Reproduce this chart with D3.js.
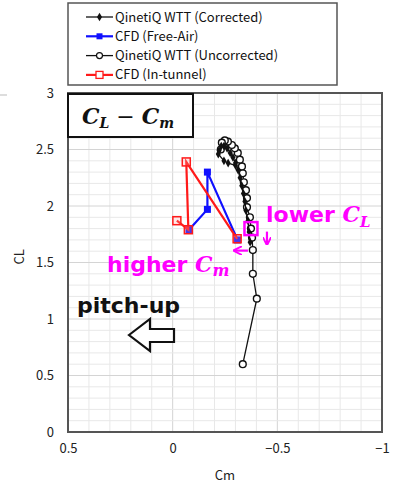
<!DOCTYPE html>
<html>
<head>
<meta charset="utf-8">
<script src="https://cdn.jsdelivr.net/npm/d3@7"></script>
<style>
  html, body { margin: 0; padding: 0; background: #fff; }
  svg { display: block; }
</style>
</head>
<body>
<svg id="chart" width="395" height="487"></svg>
<script>
// Lift coefficient vs. pitching-moment coefficient
const xTicks = [0.5, 0, -0.5, -1];
const yTicks = [0, 0.5, 1, 1.5, 2, 2.5, 3];
const xTickLabels = ["0.5", "0", "\u22120.5", "\u22121"];
const yTickLabels = ["0", "0.5", "1", "1.5", "2", "2.5", "3"];

const seriesNames = [
  "QinetiQ WTT (Corrected)",
  "CFD (Free-Air)",
  "QinetiQ WTT (Uncorrected)",
  "CFD (In-tunnel)"
];

// QinetiQ wind tunnel, uncorrected
const wttUncCm = [-0.335, -0.402, -0.383, -0.383, -0.379, -0.374, -0.369, -0.355, -0.355, -0.350, -0.340,
                  -0.335, -0.331, -0.321, -0.311, -0.297, -0.283, -0.264, -0.249, -0.235, -0.230];
const wttUncCL = [0.60, 1.18, 1.40, 1.61, 1.72, 1.80, 1.90, 1.99, 2.07, 2.14, 2.21,
                  2.29, 2.35, 2.41, 2.47, 2.51, 2.54, 2.57, 2.58, 2.56, 2.50];

// QinetiQ wind tunnel, corrected
const wttCorCm = [-0.370, -0.365, -0.360, -0.350, -0.345, -0.338, -0.330, -0.322, -0.312, -0.300,
                  -0.288, -0.275, -0.260, -0.245, -0.232, -0.222, -0.218, -0.245, -0.265, -0.300];
const wttCorCL = [1.68, 1.77, 1.87, 1.96, 2.04, 2.11, 2.18, 2.25, 2.32, 2.38,
                  2.43, 2.47, 2.51, 2.53, 2.53, 2.49, 2.46, 2.40, 2.38, 2.36];

// CFD free-air
const cfdFreeCm = [-0.078, -0.166, -0.166, -0.310];
const cfdFreeCL = [1.79, 1.97, 2.30, 1.70];

// CFD in-tunnel
const cfdTunCm = [-0.020, -0.075, -0.065, -0.308];
const cfdTunCL = [1.87, 1.79, 2.39, 1.71];

// highlighted wind-tunnel point
const highlightCm = [-0.374];
const highlightCL = [1.80];

const zip = (a, b) => a.map((v, i) => ({ cm: v, cl: b[i] }));

const svg = d3.select("#chart");
const pLeft = 68, pRight = 382, pTop = 93, pBottom = 432;

const x = d3.scaleLinear().domain([0.5, -1]).range([pLeft, pRight]);
const y = d3.scaleLinear().domain([0, 3]).range([pBottom, pTop]);

const MAGENTA = "#ff00ff";
const gridTicksX = d3.range(0, 16).map(i => +(0.5 - i * 0.1).toFixed(2));
const gridTicksY = d3.range(0, 31).map(i => +(i * 0.1).toFixed(2));
const isMajor = v => Math.abs(v * 2 - Math.round(v * 2)) < 1e-6;

// grid
const grid = svg.append("g");
grid.selectAll("line.gx").data(gridTicksX).join("line")
  .attr("x1", d => x(d)).attr("x2", d => x(d))
  .attr("y1", pTop).attr("y2", pBottom)
  .attr("stroke", d => isMajor(d) ? "#d4d4d4" : "#e8e8e8").attr("stroke-width", 1);
grid.selectAll("line.gy").data(gridTicksY).join("line")
  .attr("x1", pLeft).attr("x2", pRight)
  .attr("y1", d => y(d)).attr("y2", d => y(d))
  .attr("stroke", d => isMajor(d) ? "#d4d4d4" : "#e8e8e8").attr("stroke-width", 1);

// plot frame
svg.append("rect")
  .attr("x", pLeft).attr("y", pTop)
  .attr("width", pRight - pLeft).attr("height", pBottom - pTop)
  .attr("fill", "none").attr("stroke", "#555").attr("stroke-width", 2);

// axes (ticks hidden, labels only)
const tickFont = "'Noto Sans CJK JP', 'DejaVu Sans', sans-serif";
const xAxis = d3.axisBottom(x).tickValues(xTicks)
  .tickFormat((d, i) => xTickLabels[i]).tickSize(0).tickPadding(12);
const gx = svg.append("g").attr("transform", `translate(0,${pBottom})`).call(xAxis);
gx.select(".domain").remove();
gx.selectAll("text").attr("font-family", tickFont).attr("font-size", 13).attr("fill", "#222");

const yAxis = d3.axisLeft(y).tickValues(yTicks)
  .tickFormat((d, i) => yTickLabels[i]).tickSize(0).tickPadding(14);
const gy = svg.append("g").attr("transform", `translate(${pLeft},0)`).call(yAxis);
gy.select(".domain").remove();
gy.selectAll("text").attr("font-family", tickFont).attr("font-size", 13).attr("fill", "#222");

// axis titles
svg.append("text").attr("x", (pLeft + pRight) / 2).attr("y", 480)
  .attr("text-anchor", "middle").attr("font-family", tickFont).attr("font-size", 13)
  .attr("fill", "#222").text("Cm");
svg.append("text").attr("transform", `translate(24,${y(1.55)}) rotate(-90)`)
  .attr("text-anchor", "middle").attr("font-family", tickFont).attr("font-size", 13)
  .attr("fill", "#222").text("CL");

const line = d3.line().x(d => x(d.cm)).y(d => y(d.cl));
const plot = svg.append("g");

// uncorrected wind tunnel: open circles
const unc = zip(wttUncCm, wttUncCL);
plot.append("path").datum(unc).attr("d", line)
  .attr("fill", "none").attr("stroke", "#111").attr("stroke-width", 1.3);
plot.selectAll("circle.unc").data(unc).join("circle")
  .attr("cx", d => x(d.cm)).attr("cy", d => y(d.cl)).attr("r", 3.4)
  .attr("fill", "#fff").attr("stroke", "#111").attr("stroke-width", 1.4);

// corrected wind tunnel: small filled diamonds
const cor = zip(wttCorCm, wttCorCL);
const diamond = d3.symbol().type(d3.symbolDiamond).size(22);
plot.append("path").datum(cor).attr("d", line)
  .attr("fill", "none").attr("stroke", "#111").attr("stroke-width", 1.3);
plot.selectAll("path.cor").data(cor).join("path")
  .attr("transform", d => `translate(${x(d.cm)},${y(d.cl)})`)
  .attr("d", diamond).attr("fill", "#111");

// CFD free-air: filled blue squares
const free = zip(cfdFreeCm, cfdFreeCL);
plot.append("path").datum(free).attr("d", line)
  .attr("fill", "none").attr("stroke", "#1010ff").attr("stroke-width", 2.2);
plot.selectAll("rect.free").data(free).join("rect")
  .attr("x", d => x(d.cm) - 3.5).attr("y", d => y(d.cl) - 3.5)
  .attr("width", 7).attr("height", 7).attr("fill", "#1010ff");

// CFD in-tunnel: open red squares
const tun = zip(cfdTunCm, cfdTunCL);
plot.append("path").datum(tun).attr("d", line)
  .attr("fill", "none").attr("stroke", "#ff1a1a").attr("stroke-width", 2.2);
plot.selectAll("rect.tun").data(tun).join("rect")
  .attr("x", d => x(d.cm) - 4).attr("y", d => y(d.cl) - 4)
  .attr("width", 8).attr("height", 8)
  .attr("fill", "rgba(255,160,160,0.25)").attr("stroke", "#ff1a1a").attr("stroke-width", 1.5);

// highlighted point
const hl = zip(highlightCm, highlightCL);
plot.selectAll("rect.hl").data(hl).join("rect")
  .attr("x", d => x(d.cm) - 6.5).attr("y", d => y(d.cl) - 6.5)
  .attr("width", 13).attr("height", 13)
  .attr("fill", "none").attr("stroke", MAGENTA).attr("stroke-width", 2.5);

// arrow markers
const defs = svg.append("defs");
defs.append("marker").attr("id", "mhead").attr("viewBox", "0 0 10 10")
  .attr("refX", 8).attr("refY", 5).attr("markerWidth", 4).attr("markerHeight", 4)
  .attr("orient", "auto")
  .append("path").attr("d", "M0,0 L10,5 L0,10").attr("fill", "none")
  .attr("stroke", MAGENTA).attr("stroke-width", 2.2);

const hx = x(highlightCm[0]), hy = y(highlightCL[0]);
svg.append("line").attr("x1", hx + 16).attr("y1", hy + 3).attr("x2", hx + 16).attr("y2", hy + 15)
  .attr("stroke", MAGENTA).attr("stroke-width", 2.2).attr("marker-end", "url(#mhead)");
svg.append("line").attr("x1", hx - 3).attr("y1", hy + 22).attr("x2", hx - 16).attr("y2", hy + 22)
  .attr("stroke", MAGENTA).attr("stroke-width", 2.2).attr("marker-end", "url(#mhead)");

// annotations
const boldSans = "'DejaVu Sans', Verdana, sans-serif";
const mathFont = "'DejaVu Serif', 'Liberation Serif', serif";

const lower = svg.append("text").attr("x", 266).attr("y", 222)
  .attr("font-family", boldSans).attr("font-weight", "bold").attr("font-size", 22)
  .attr("fill", MAGENTA);
lower.append("tspan").text("lower ");
lower.append("tspan").attr("font-family", mathFont).attr("font-style", "italic").text("C");
lower.append("tspan").attr("font-family", mathFont).attr("font-style", "italic")
  .attr("font-size", 15).attr("dy", 5).text("L");

const higher = svg.append("text").attr("x", 107).attr("y", 272)
  .attr("font-family", boldSans).attr("font-weight", "bold").attr("font-size", 22)
  .attr("fill", MAGENTA);
higher.append("tspan").text("higher ");
higher.append("tspan").attr("font-family", mathFont).attr("font-style", "italic").text("C");
higher.append("tspan").attr("font-family", mathFont).attr("font-style", "italic")
  .attr("font-size", 16).attr("dy", 4).text("m");

svg.append("text").attr("x", 77).attr("y", 313)
  .attr("font-family", boldSans).attr("font-weight", "bold").attr("font-size", 22)
  .attr("fill", "#111").text("pitch-up");

// hollow block arrow pointing to the left
svg.append("path")
  .attr("d", "M129,335 L150,319 L150,329 L174,329 L174,342 L150,342 L150,351 Z")
  .attr("fill", "#fff").attr("stroke", "#111").attr("stroke-width", 2.2)
  .attr("stroke-linejoin", "miter");

// title box
svg.append("rect").attr("x", 68).attr("y", 94).attr("width", 125).attr("height", 43)
  .attr("fill", "#fff").attr("stroke", "#111").attr("stroke-width", 2);
const title = svg.append("text").attr("x", 128).attr("y", 124).attr("text-anchor", "middle")
  .attr("font-family", mathFont).attr("font-weight", "bold").attr("font-style", "italic")
  .attr("font-size", 22).attr("fill", "#111");
title.append("tspan").text("C");
title.append("tspan").attr("font-size", 14).attr("dy", 4).text("L");
title.append("tspan").attr("dy", -4).attr("font-style", "normal").attr("font-weight", "normal")
  .text(" \u2212 ");
title.append("tspan").text("C");
title.append("tspan").attr("font-size", 14).attr("dy", 4).text("m");

// legend
const legend = svg.append("g");
legend.append("rect").attr("x", 68).attr("y", 3).attr("width", 269).attr("height", 82)
  .attr("fill", "#fff").attr("stroke", "#555").attr("stroke-width", 1.5);
const legendStyles = [
  { color: "#111", width: 1.3, mark: "diamond" },
  { color: "#1010ff", width: 2.2, mark: "fsquare" },
  { color: "#111", width: 1.3, mark: "circle" },
  { color: "#ff1a1a", width: 2.2, mark: "osquare" }
];
seriesNames.forEach((name, i) => {
  const ly = 17 + i * 19.3;
  const st = legendStyles[i];
  const g = legend.append("g");
  g.append("line").attr("x1", 86).attr("x2", 113).attr("y1", ly).attr("y2", ly)
    .attr("stroke", st.color).attr("stroke-width", st.width);
  if (st.mark === "diamond") {
    g.append("path").attr("transform", `translate(99.5,${ly})`).attr("d", diamond).attr("fill", st.color);
  } else if (st.mark === "fsquare") {
    g.append("rect").attr("x", 96.5).attr("y", ly - 3).attr("width", 6).attr("height", 6).attr("fill", st.color);
  } else if (st.mark === "circle") {
    g.append("circle").attr("cx", 99.5).attr("cy", ly).attr("r", 3)
      .attr("fill", "#fff").attr("stroke", st.color).attr("stroke-width", 1.2);
  } else {
    g.append("rect").attr("x", 96).attr("y", ly - 3.5).attr("width", 7).attr("height", 7)
      .attr("fill", "#fff").attr("stroke", st.color).attr("stroke-width", 1.3);
  }
  g.append("text").attr("x", 115).attr("y", ly + 4.5)
    .attr("font-family", tickFont).attr("font-size", 13).attr("fill", "#111").text(name);
});

// short separator stub at the top-left edge
svg.append("line").attr("x1", 0).attr("x2", 7).attr("y1", 95).attr("y2", 95)
  .attr("stroke", "#bbb").attr("stroke-width", 1);
</script>
</body>
</html>
